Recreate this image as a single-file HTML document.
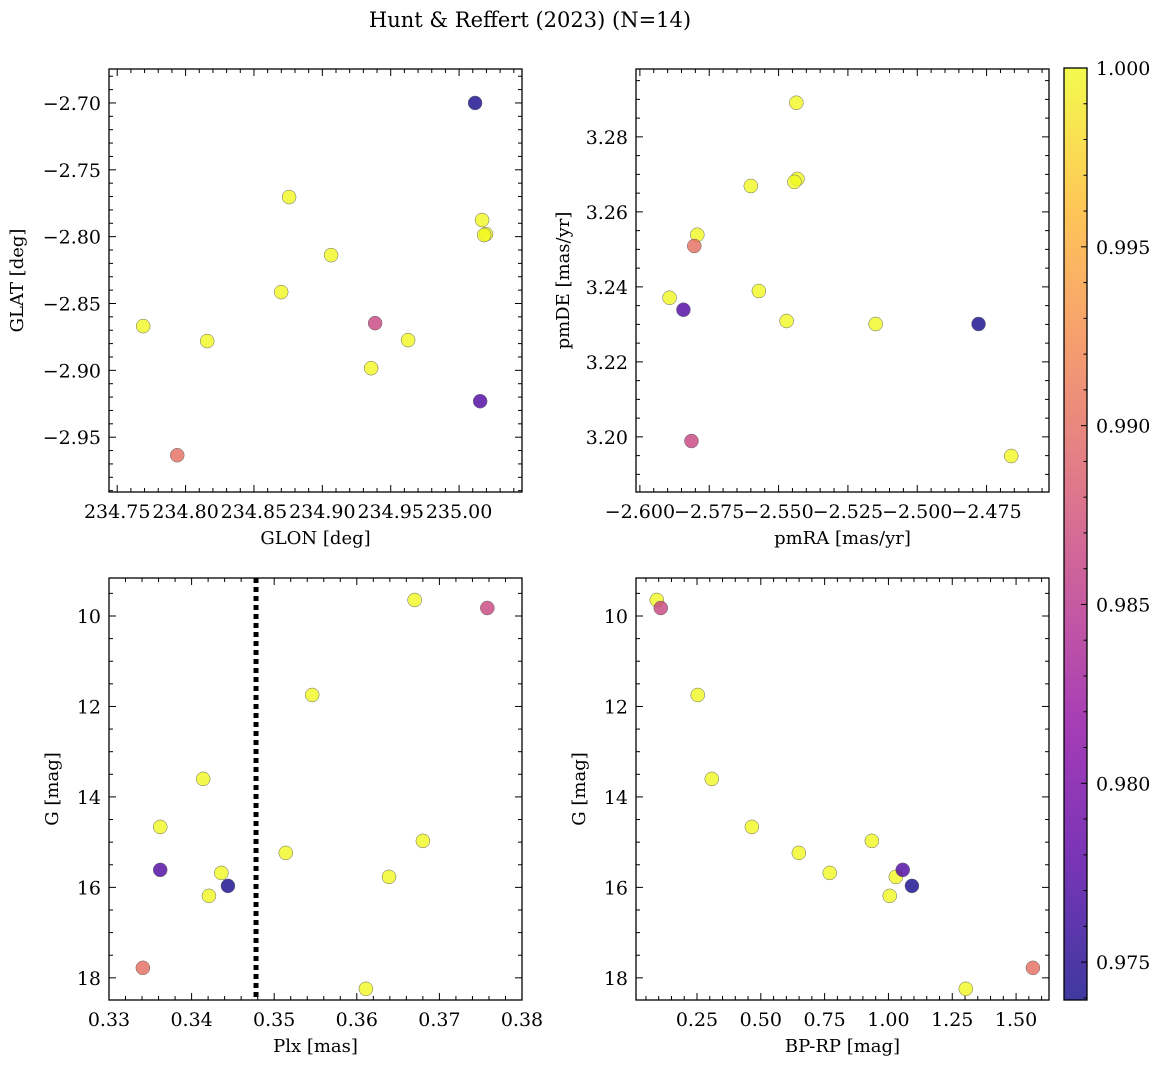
<!DOCTYPE html>
<html><head><meta charset="utf-8">
<style>
html,body{margin:0;padding:0;background:#fff;}
svg{display:block;font-family:"DejaVu Serif","Liberation Serif",serif;}
</style></head>
<body>
<svg id="fig" width="1161" height="1068" viewBox="0 0 1161 1068" xmlns="http://www.w3.org/2000/svg">
<text x="530" y="27" font-size="21" text-anchor="middle">Hunt &amp; Reffert (2023) (N=14)</text>
</svg>
<script>
// star data
const glon = [235.0117,235.0154,234.9386,234.7939,234.769,234.8158,234.8757,234.8699,234.9064,234.9357,234.9627,235.0168,235.0197,235.0183];
const glat = [-2.700,-2.9231,-2.8647,-2.9635,-2.8669,-2.8781,-2.7704,-2.8415,-2.8138,-2.8984,-2.8774,-2.7876,-2.7981,-2.7988];
const pmra = [-2.4779,-2.5843,-2.5814,-2.5804,-2.5436,-2.5432,-2.5443,-2.56,-2.5793,-2.5893,-2.5571,-2.5471,-2.515,-2.4661];
const pmde = [3.2301,3.2339,3.1989,3.2509,3.2891,3.2688,3.268,3.2669,3.2539,3.2371,3.2389,3.2309,3.2301,3.1949];
const plx  = [0.3444,0.3362,0.3758,0.3341,0.3670,0.3546,0.3414,0.3362,0.3514,0.3436,0.3680,0.3639,0.3421,0.3611];
const gmag = [15.967,15.613,9.823,17.779,9.646,11.746,13.602,14.663,15.238,15.68,14.972,15.768,16.188,18.243];
const bprp = [1.092,1.056,0.108,1.566,0.0924,0.253,0.308,0.465,0.649,0.770,0.935,1.029,1.005,1.303];
const prob = [0.9742,0.9772,0.9865,0.9902,1,1,1,1,1,1,1,1,1,1];
const cbTicks = [0.975,0.980,0.985,0.990,0.995,1.000];
const plxLine = 0.3478;

const NS="http://www.w3.org/2000/svg";
const svg=document.getElementById('fig');
function el(t,a,p){const e=document.createElementNS(NS,t);for(const k in a)e.setAttribute(k,a[k]);(p||svg).appendChild(e);return e;}
const plasma=[[13,8,135],[84,2,163],[139,10,165],[185,50,137],[219,92,104],[244,136,73],[254,188,43],[240,249,33]];
function cmap(v,vmin,vmax){let f=Math.max(0,Math.min(1,(v-vmin)/(vmax-vmin)))*(plasma.length-1);let i=Math.min(Math.floor(f),plasma.length-2);let t=f-i;
 const c=plasma[i].map((x,k)=>Math.round(x+(plasma[i+1][k]-x)*t));return `rgb(${c[0]},${c[1]},${c[2]})`;}
const VMIN=0.97394,VMAX=1.0;
const TF=19, LF=18;

function panel(o){
 const sx=v=>o.x0+(v-o.xmin)/(o.xmax-o.xmin)*(o.x1-o.x0);
 const sy=o.yinv? v=>o.y0+(v-o.ymin)/(o.ymax-o.ymin)*(o.y1-o.y0) : v=>o.y1-(v-o.ymin)/(o.ymax-o.ymin)*(o.y1-o.y0);
 const g=el('g',{});
 
 
 const pg=el('g',{},g);
 
 
 const order=prob.map((p,i)=>i).sort((a,b)=>prob[b]-prob[a]);
 order.forEach(i=>{
  const c=el('circle',{cx:sx(o.xs[i]),cy:sy(o.ys[i]),r:7,fill:cmap(prob[i],VMIN,VMAX),'fill-opacity':0.8,stroke:'#666','stroke-width':0.5},pg);
  
  
 });
 if(o.extra)o.extra(g,sx,sy);
 const f=el('rect',{x:o.x0,y:o.y0,width:o.x1-o.x0,height:o.y1-o.y0,fill:'none',stroke:'#000','stroke-width':1.3},g);
 
 
 const eps=1e-9;
 const n0=Math.ceil(o.xmin/o.xmi-eps),n1=Math.floor(o.xmax/o.xmi+eps);
 for(let n=n0;n<=n1;n++){const v=n*o.xmi;const x=sx(v);const maj=Math.abs(v/o.xma-Math.round(v/o.xma))<1e-6;const L=maj?7:4;
  el('line',{x1:x,x2:x,y1:o.y1,y2:o.y1-L,stroke:'#000','stroke-width':1},g);
  el('line',{x1:x,x2:x,y1:o.y0,y2:o.y0+L,stroke:'#000','stroke-width':1},g);
  if(maj){const t=el('text',{x:x,y:o.y1+26,'font-size':TF,'text-anchor':'middle'},g);t.textContent=o.xfmt(v);
   }}
 const m0=Math.ceil(o.ymin/o.ymi-eps),m1=Math.floor(o.ymax/o.ymi+eps);
 for(let n=m0;n<=m1;n++){const v=n*o.ymi;const y=sy(v);const maj=Math.abs(v/o.yma-Math.round(v/o.yma))<1e-6;const L=maj?7:4;
  el('line',{x1:o.x0,x2:o.x0+L,y1:y,y2:y,stroke:'#000','stroke-width':1},g);
  el('line',{x1:o.x1,x2:o.x1-L,y1:y,y2:y,stroke:'#000','stroke-width':1},g);
  if(maj){const t=el('text',{x:o.x0-8,y:y+7,'font-size':TF,'text-anchor':'end'},g);t.textContent=o.yfmt(v);
   }}
 const xl=el('text',{x:(o.x0+o.x1)/2,y:o.y1+52,'font-size':LF,'text-anchor':'middle'},g);xl.textContent=o.xlabel;
 
 const yx=o.ylx,yy=(o.y0+o.y1)/2;
 const yl=el('text',{x:yx,y:yy,'font-size':LF,'text-anchor':'middle',transform:`rotate(-90 ${yx} ${yy})`},g);yl.textContent=o.ylabel;
 
}
const mfmt=(d)=>v=>{const s=v.toFixed(d);return s.startsWith('-')?'\u2212'+s.slice(1):s;};

panel({name:'glon-glat-panel',x0:109,x1:522,y0:69,y1:492,xmin:234.744,xmax:235.046,ymin:-2.991,ymax:-2.6746,
 xma:0.05,xmi:0.01,yma:0.05,ymi:0.01,xfmt:mfmt(2),yfmt:mfmt(2),xs:glon,ys:glat,xlabel:'GLON [deg]',ylabel:'GLAT [deg]',ylx:23});
panel({name:'pm-panel',x0:636,x1:1049,y0:69,y1:492,xmin:-2.6014,xmax:-2.4525,ymin:3.1853,ymax:3.2981,
 xma:0.025,xmi:0.005,yma:0.02,ymi:0.005,xfmt:mfmt(3),yfmt:mfmt(2),xs:pmra,ys:pmde,xlabel:'pmRA [mas/yr]',ylabel:'pmDE [mas/yr]',ylx:569});
panel({name:'plx-g-panel',x0:109,x1:522,y0:578,y1:1000,xmin:0.33,xmax:0.38,ymin:9.16,ymax:18.49,yinv:true,
 xma:0.01,xmi:0.002,yma:2,ymi:0.5,xfmt:mfmt(2),yfmt:mfmt(0),xs:plx,ys:gmag,xlabel:'Plx [mas]',ylabel:'G [mag]',ylx:58,
 extra:(g,sx,sy)=>{const l=el('line',{x1:sx(plxLine),x2:sx(plxLine),y1:578,y2:1000,stroke:'#000','stroke-width':5,'stroke-dasharray':'5 4'},g);
  }});
panel({name:'cmd-panel',x0:636,x1:1049,y0:578,y1:1000,xmin:0.011,xmax:1.629,ymin:9.16,ymax:18.49,yinv:true,
 xma:0.25,xmi:0.05,yma:2,ymi:0.5,xfmt:mfmt(2),yfmt:mfmt(0),xs:bprp,ys:gmag,xlabel:'BP-RP [mag]',ylabel:'G [mag]',ylx:585});

const cb=el('g',{});


const defs=el('defs',{},cb);
const lg=el('linearGradient',{id:'cbg',x1:0,y1:1,x2:0,y2:0},defs);
for(let k=0;k<=20;k++){el('stop',{offset:k/20,'stop-color':cmap(VMIN+(VMAX-VMIN)*k/20,VMIN,VMAX),'stop-opacity':0.8},lg);}
const cy0=68,cy1=1000,cx0=1064,cx1=1087;
const csy=v=>cy1-(v-VMIN)/(VMAX-VMIN)*(cy1-cy0);
el('rect',{x:cx0,y:cy0,width:cx1-cx0,height:cy1-cy0,fill:'url(#cbg)',stroke:'#000','stroke-width':1.3},cb);
for(let n=974;n<=1000;n++){const v=n/1000;const y=csy(v);const maj=n%5===0;
 el('line',{x1:cx1,x2:cx1-(maj?6:3.5),y1:y,y2:y,stroke:'#000','stroke-width':1},cb);}
cbTicks.forEach(v=>{const t=el('text',{x:cx1+9,y:csy(v)+7,'font-size':TF},cb);t.textContent=v.toFixed(3);
 });
</script>
</body></html>
